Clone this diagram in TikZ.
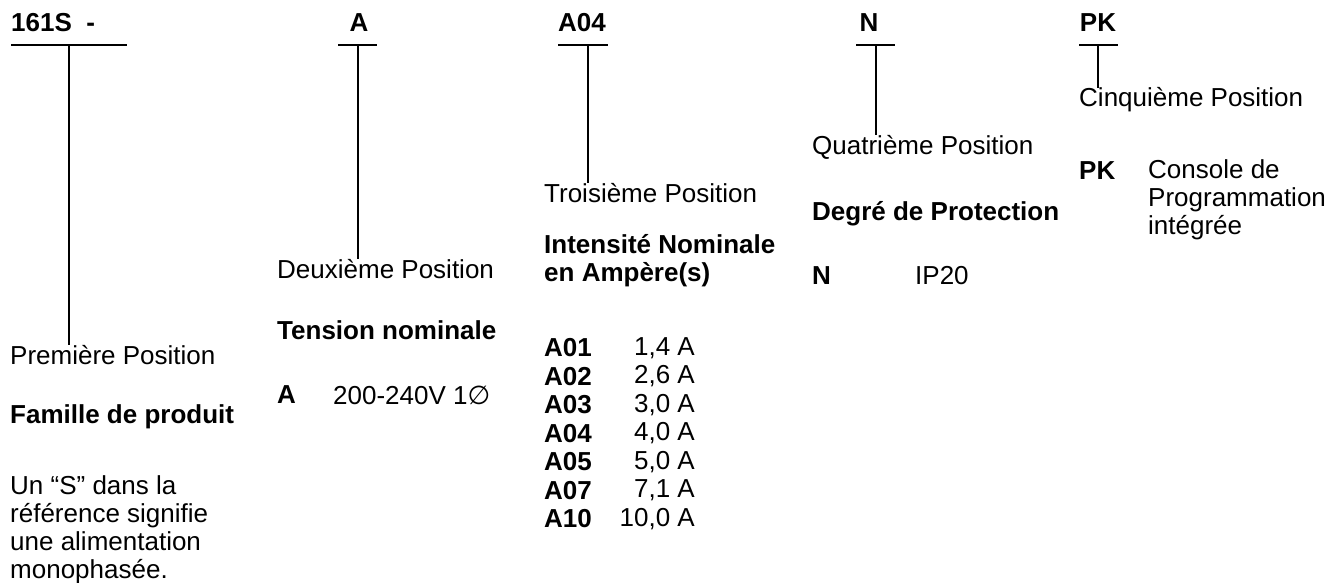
\documentclass[tikz,border=0pt]{standalone}
\usepackage{fontspec}
\setmainfont{Liberation Sans}
\newfontfamily\symfont{DejaVu Sans}
\begin{document}
\begin{tikzpicture}[x=1pt,y=-1pt,
  txt/.style={anchor=west,inner sep=0pt,font=\fontsize{26}{28}\selectfont},
  bld/.style={txt,font=\fontsize{26}{28}\selectfont\bfseries},
  hdr/.style={anchor=center,inner sep=0pt,font=\fontsize{26}{28}\selectfont\bfseries},
  ln/.style={line width=1.6pt}]
\useasboundingbox (0,0) rectangle (1331,582);
% headers
\node[bld] (h1) at (11,23) {161S\ \ -};
\node[hdr] (h2) at (359,23) {A};
\node[hdr] (h3) at (582,23) {A04};
\node[hdr] (h4) at (869,23) {N};
\node[hdr] (h5) at (1098,23) {PK};
% underline bars
\coordinate (b1l) at (11,45); \coordinate (b1r) at (127,45);
\coordinate (b2l) at (338,45); \coordinate (b2r) at (377,45);
\coordinate (b3l) at (558,45); \coordinate (b3r) at (608,45);
\coordinate (b4l) at (856,45); \coordinate (b4r) at (895,45);
\coordinate (b5l) at (1079,45); \coordinate (b5r) at (1118,45);
\draw[ln] (b1l) -- (b1r); \draw[ln] (b2l) -- (b2r); \draw[ln] (b3l) -- (b3r);
\draw[ln] (b4l) -- (b4r); \draw[ln] (b5l) -- (b5r);
\coordinate (t1) at (69,45); \coordinate (t2) at (358,45); \coordinate (t3) at (588,45);
\coordinate (t4) at (876,45); \coordinate (t5) at (1098,45);
% column 1
\node[txt] (p1) at (10,355) {Première Position};
\node[bld] (f1) at (10,417) {Famille de produit};
\node[txt,anchor=north west,align=left] (d1) at (10,475) {Un “S” dans la\\référence signifie\\une alimentation\\monophasée.};
% column 2
\node[txt] (p2) at (277,269) {Deuxième Position};
\node[bld] (f2) at (277,330) {Tension nominale};
\node[bld] (c2) at (277,395) {A};
\node[txt] (v2) at (333,395) {200-240V 1{\symfont ∅}};
% column 3
\node[txt] (p3) at (544,193) {Troisième Position};
\node[bld,anchor=north west,align=left] (f3) at (544,234) {Intensité Nominale\\en Ampère(s)};
\foreach \c/\v [count=\i from 0] in {A01/{1,4 A},A02/{2,6 A},A03/{3,0 A},A04/{4,0 A},A05/{5,0 A},A07/{7,1 A},A10/{10,0 A}} {
  \node[bld] (c3-\i) at (544,348+28.5*\i) {\c};
  \node[txt,anchor=east] (v3-\i) at (695,348+28.5*\i) {\v};
}
% column 4
\node[txt] (p4) at (812,147) {Quatrième Position};
\node[bld] (f4) at (812,214) {Degré de Protection};
\node[bld] (c4) at (812,276) {N};
\node[txt] (v4) at (915,276) {IP20};
% column 5
\node[txt] (p5) at (1079,100) {Cinquième Position};
\node[bld] (c5) at (1079,171) {PK};
\node[txt,anchor=north west,align=left] (v5) at (1148,159) {Console de\\Programmation\\intégrée};
% stems
\draw[ln] (t1) -- (p1.north -| t1);
\draw[ln] (t2) -- (p2.north -| t2);
\draw[ln] (t3) -- (p3.north -| t3);
\draw[ln] (t4) -- (p4.north -| t4);
\draw[ln] (t5) -- (p5.north -| t5);
\end{tikzpicture}
\end{document}
